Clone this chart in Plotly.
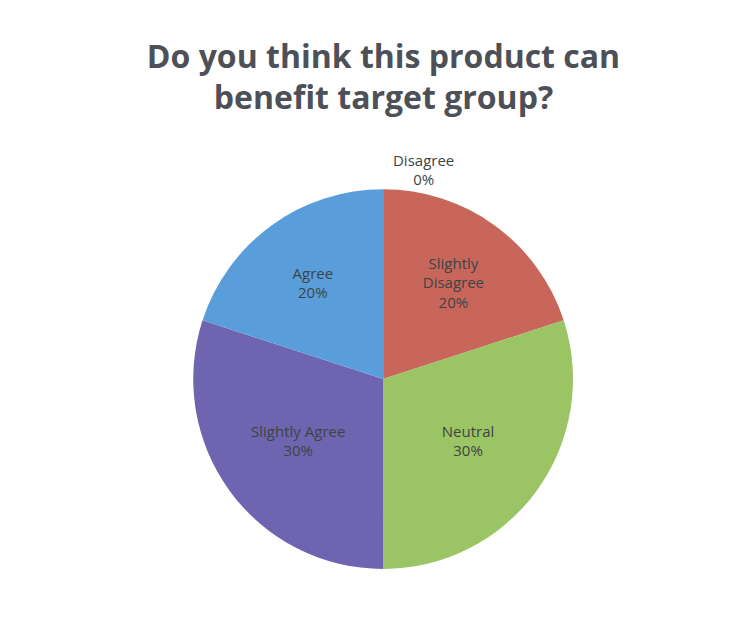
import plotly.graph_objects as go

labels = ["Disagree", "Slightly Disagree", "Neutral", "Slightly Agree", "Agree"]
label_text = ["Disagree", "Slightly<br>Disagree", "Neutral", "Slightly Agree", "Agree"]
values = [0, 20, 30, 30, 20]
colors = ["#C8665C", "#C8665C", "#9BC464", "#6E64AF", "#599EDA"]
title_text = "Do you think this product can<br>benefit target group?"

fig = go.Figure(go.Pie(
    labels=labels,
    values=values,
    text=label_text,
    sort=False,
    direction="clockwise",
    rotation=0,
    marker=dict(colors=colors, line=dict(width=0)),
    texttemplate="%{text}<br>%{percent:.0%}",
    textposition=["outside", "inside", "inside", "inside", "inside"],
    insidetextorientation="horizontal",
    textfont=dict(family="Open Sans", size=15, color="#3c4444"),
    showlegend=False,
    hoverinfo="label+percent",
    domain=dict(x=[0.258, 0.765], y=[0.091, 0.698]),
))

fig.update_layout(
    width=749, height=626,
    margin=dict(l=0, r=0, t=0, b=0),
    paper_bgcolor="white",
    plot_bgcolor="white",
    title=dict(text=title_text, x=0.512, xanchor="center", y=0.892, yanchor="middle",
               font=dict(family="Open Sans", size=32, color="#4d5157", weight="bold")),
    uniformtext=dict(minsize=15, mode="show"),
)

fig.write_html("out.html")
